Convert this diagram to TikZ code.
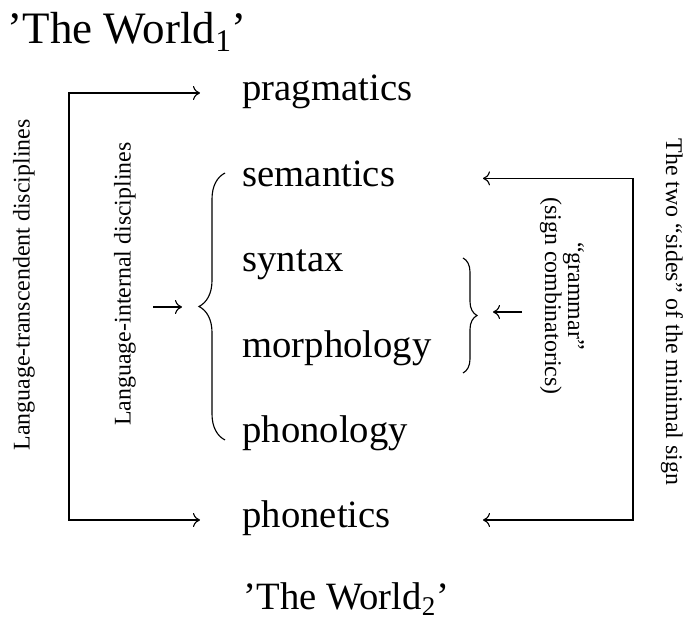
\documentclass[tikz,border=0pt]{standalone}
\usepackage{fontspec}
\setmainfont{Liberation Serif}
\usetikzlibrary{arrows.meta,decorations.pathreplacing,positioning}

\begin{document}
\begin{tikzpicture}[line width=0.8pt, >={To[length=5pt,width=10pt]},
    word/.style={anchor=base west, inner sep=0pt, font=\fontsize{27.5}{30}\selectfont},
    side/.style={inner sep=0pt, align=center, font=\fontsize{17}{14.5}\selectfont},
    curly/.style={decorate, decoration={brace, amplitude=#1}}]
      \useasboundingbox (0, 0) rectangle (17.25, 15.7);
      \node [word, font=\fontsize{32}{34}\selectfont] (world1) at (0.18, 14.62) {’The World\textsubscript{1}’};
      \node [word] (prag)   at (6.05, 13.175) {pragmatics};
      \node [word] (sem)    at (6.05, 11.04)  {semantics};
      \node [word] (syn)    at (6.05, 8.905)  {syntax};
      \node [word] (morph)  at (6.05, 6.77)   {morphology};
      \node [word] (phonol) at (6.05, 4.635)  {phonology};
      \node [word] (phonet) at (6.05, 2.5)    {phonetics};
      \node [word] (world2) at (6.075, 0.45)  {’The World\textsubscript{2}’};
      % arrow ends next to the words
      \coordinate (prag-in)    at ([shift={(-1.05, 0.2)}]prag.base west);
      \coordinate (phonet-in)  at ([shift={(-1.05, 0.2)}]phonet.base west);
      \coordinate (sem-out)    at ([shift={(6.025, 0.2)}]sem.base west);
      \coordinate (phonet-out) at ([shift={(6.025, 0.2)}]phonet.base west);
      \coordinate (lbar) at (1.725, 8);
      \coordinate (rbar) at (15.825, 7);
      \draw [<->] (prag-in) -| (lbar) |- (phonet-in);
      \draw [<->] (sem-out) -| (rbar) |- (phonet-out);
      % braces
      \draw [curly=0.65cm] (5.625, 4.7) -- (5.625, 11.375);
      \draw [curly=0.35cm] (11.575, 9.25) -- (11.575, 6.375);
      \coordinate (larr-a) at (3.825, 8.025);
      \coordinate (larr-b) at (4.55, 8.025);
      \coordinate (rarr-a) at (13.05, 7.9);
      \coordinate (rarr-b) at (12.325, 7.9);
      \draw [->] (larr-a) -- (larr-b);
      \draw [->] (rarr-a) -- (rarr-b);
      % side labels
      \node [side, rotate=90]  (transc) at (0.6, 8.575)  {Language-transcendent disciplines};
      \node [side, rotate=90]  (intern) at (3.125, 8.6)  {Language-internal disciplines};
      \node [side, rotate=-90] (sides)  at (16.8, 7.9)   {The two “sides” of the minimal sign};
      \node [side, rotate=-90] (gram)   at (14.05, 8.3)  {“grammar”\\(sign combinatorics)};
\end{tikzpicture}
\end{document}
